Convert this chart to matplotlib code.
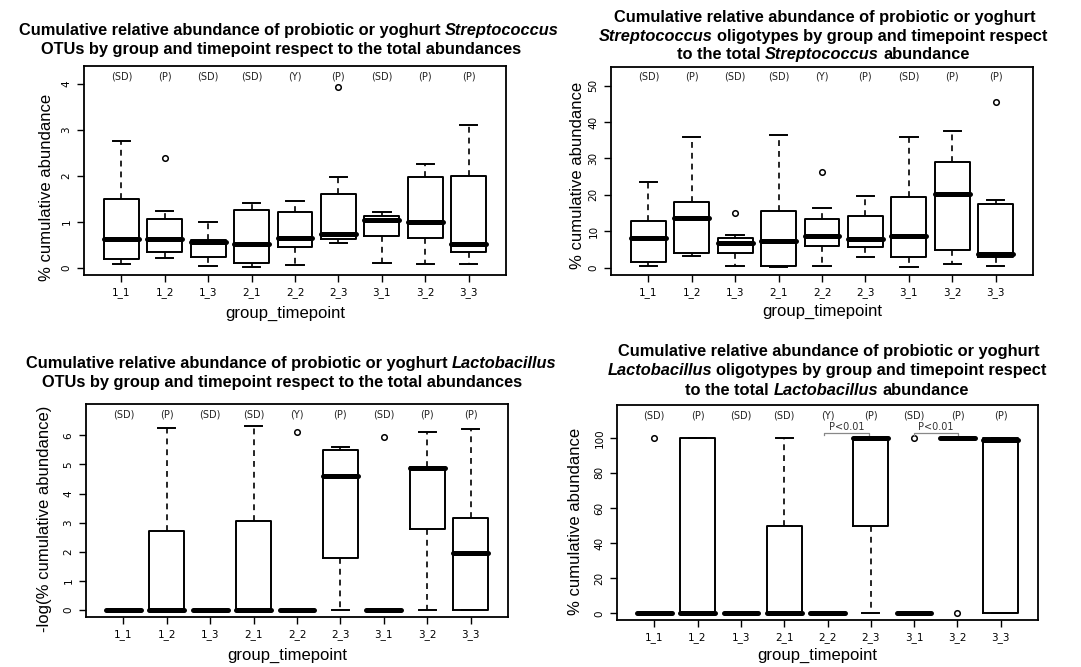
import matplotlib
matplotlib.use("Agg")
import matplotlib.pyplot as plt

W, H = 1081, 667

groups = ["1_1", "1_2", "1_3", "2_1", "2_2", "2_3", "3_1", "3_2", "3_3"]
diets = ["(SD)", "(P)", "(SD)", "(SD)", "(Y)", "(P)", "(SD)", "(P)", "(P)"]

# Streptococcus OTUs (% of total abundances)
strep_otu_lo = [0.09, 0.23, 0.05, 0.02, 0.06, 0.54, 0.10, 0.09, 0.09]
strep_otu_q1 = [0.19, 0.34, 0.25, 0.12, 0.45, 0.64, 0.69, 0.66, 0.36]
strep_otu_med = [0.63, 0.63, 0.57, 0.52, 0.65, 0.73, 1.05, 1.00, 0.52]
strep_otu_q3 = [1.50, 1.07, 0.62, 1.26, 1.21, 1.60, 1.14, 1.98, 2.00]
strep_otu_hi = [2.77, 1.24, 1.00, 1.42, 1.45, 1.98, 1.21, 2.26, 3.11]
strep_otu_out = [[], [2.40], [], [], [], [3.93], [], [], []]

# Streptococcus oligotypes (% of total Streptococcus)
strep_oli_lo = [0.6, 3.3, 0.55, 0.1, 0.4, 2.9, 0.3, 0.9, 0.6]
strep_oli_q1 = [1.5, 4.1, 4.1, 0.55, 6.0, 5.8, 3.0, 4.85, 3.0]
strep_oli_med = [8.15, 13.55, 6.8, 7.3, 8.7, 8.0, 8.7, 20.3, 3.7]
strep_oli_q3 = [12.8, 18.0, 8.15, 15.7, 13.4, 14.1, 19.4, 28.9, 17.4]
strep_oli_hi = [23.5, 36.0, 9.0, 36.5, 16.5, 19.6, 36.0, 37.6, 18.7]
strep_oli_out = [[], [], [15.1], [], [26.2], [], [], [], [45.6]]

# Lactobacillus OTUs, -log(% cumulative abundance)
lacto_otu_lo = [0, 0, 0, 0, 0, 0, 0, 0, 0]
lacto_otu_q1 = [0, 0, 0, 0, 0, 1.77, 0, 2.79, 0]
lacto_otu_med = [0, 0, 0, 0, 0, 4.59, 0, 4.88, 1.95]
lacto_otu_q3 = [0, 2.71, 0, 3.07, 0, 5.51, 0, 4.91, 3.14]
lacto_otu_hi = [0, 6.27, 0, 6.32, 0, 5.60, 0, 6.11, 6.23]
lacto_otu_out = [[], [], [], [], [6.13], [], [5.95], [], []]

# Lactobacillus oligotypes (% of total Lactobacillus)
lacto_oli_lo = [0, 0, 0, 0, 0, 0, 0, 100, 0]
lacto_oli_q1 = [0, 0, 0, 0, 0, 50, 0, 100, 0]
lacto_oli_med = [0, 0, 0, 0, 0, 99.8, 0, 100, 98.5]
lacto_oli_q3 = [0, 100, 0, 50, 0, 100, 0, 100, 100]
lacto_oli_hi = [0, 100, 0, 100, 0, 100, 0, 100, 100]
lacto_oli_out = [[100], [], [], [], [], [], [100], [0], []]

# significance brackets on the last panel: (x from, x to, label)
sig_pairs = [(4.93, 5.96, "P<0.01"), (7.0, 8.02, "P<0.01")]

TITLE_FONT = "Liberation Sans"
TICK_FONT = "DejaVu Sans"

fig = plt.figure(figsize=(W / 100, H / 100), dpi=100)
renderer = fig.canvas.get_renderer()


def make_stats(lo, q1, med, q3, hi, out):
    return [dict(whislo=a, q1=b, med=c, q3=d, whishi=e, fliers=f)
            for a, b, c, d, e, f in zip(lo, q1, med, q3, hi, out)]


def px_axes(left, top, right, bottom):
    return fig.add_axes([left / W, 1 - bottom / H, (right - left) / W, (bottom - top) / H])


def rich_line(xc, y, pieces, size=11.8):
    # pieces: list of (text, italic); centred at pixel x, baseline at pixel y
    kw = dict(fontsize=size, fontweight="bold", family=TITLE_FONT, va="baseline", ha="left")
    t1 = fig.text(0, 0, "a a", **kw)
    t2 = fig.text(0, 0, "aa", **kw)
    space = t1.get_window_extent(renderer).width - t2.get_window_extent(renderer).width
    t1.remove()
    t2.remove()
    texts = []
    for s, it in pieces:
        texts.append(fig.text(0, 0, s, style="italic" if it else "normal", **kw))
    widths = [t.get_window_extent(renderer).width for t in texts]
    total = sum(widths) + space * (len(texts) - 1)
    x = xc - total / 2
    for t, w in zip(texts, widths):
        t.set_position((x / W, 1 - y / H))
        x += w + space


def draw_panel(ax, stats, ylim, yticks):
    ax.bxp(stats, positions=range(1, 10), widths=0.8, manage_ticks=False,
           boxprops=dict(color="black", linewidth=1.4),
           whiskerprops=dict(color="black", linewidth=1.2, linestyle=(0, (3.5, 3))),
           capprops=dict(color="black", linewidth=1.4),
           medianprops=dict(color="black", linewidth=3.6, solid_capstyle="round"),
           flierprops=dict(marker="o", markersize=4, markerfacecolor="none",
                           markeredgecolor="black", markeredgewidth=1.1))
    ax.set_xlim(0.14, 9.86)
    ax.set_ylim(*ylim)
    ax.set_xticks(range(1, 10))
    ax.set_xticklabels(groups, family=TICK_FONT, fontsize=7.5)
    ax.set_yticks(yticks)
    ax.set_yticklabels([str(v) for v in yticks], family=TICK_FONT, fontsize=7.5,
                       rotation=90, va="center")
    ax.tick_params(length=5, width=1, pad=4, color="black")
    for sp in ax.spines.values():
        sp.set_linewidth(1.3)
    for i, d in enumerate(diets):
        ax.text(i + 1, 0.952, d, transform=ax.get_xaxis_transform(), ha="center",
                va="center", fontsize=7, family=TICK_FONT, color="#222222")


def labels(xl, yl, ylabel):
    fig.text(xl[0] / W, 1 - xl[1] / H, "group_timepoint", ha="center", va="center",
             fontsize=12, family=TITLE_FONT)
    fig.text(yl[0] / W, 1 - yl[1] / H, ylabel, ha="center", va="center",
             rotation=90, fontsize=12, family=TITLE_FONT)


# top left
ax1 = px_axes(84, 66, 506, 275)
draw_panel(ax1, make_stats(strep_otu_lo, strep_otu_q1, strep_otu_med, strep_otu_q3,
                           strep_otu_hi, strep_otu_out), (-0.15, 4.39), [0, 1, 2, 3, 4])
rich_line(289, 35, [("Cumulative relative abundance of probiotic or yoghurt", False),
                    ("Streptococcus", True)])
rich_line(281, 54, [("OTUs by group and timepoint respect to the total abundances", False)])
labels((285, 313), (47, 187), "% cumulative abundance")

# top right
ax2 = px_axes(611, 67, 1033, 275)
draw_panel(ax2, make_stats(strep_oli_lo, strep_oli_q1, strep_oli_med, strep_oli_q3,
                           strep_oli_hi, strep_oli_out), (-2.0, 55.1), [0, 10, 20, 30, 40, 50])
rich_line(825, 22, [("Cumulative relative abundance of probiotic or yoghurt", False)])
rich_line(823, 41, [("Streptococcus", True),
                    ("oligotypes by group and timepoint respect", False)])
rich_line(823, 59, [("to the total", False), ("Streptococcus", True), ("abundance", False)])
labels((822, 311), (577, 175), "% cumulative abundance")

# bottom left
ax3 = px_axes(86, 404, 508, 617)
draw_panel(ax3, make_stats(lacto_otu_lo, lacto_otu_q1, lacto_otu_med, lacto_otu_q3,
                           lacto_otu_hi, lacto_otu_out), (-0.25, 7.08), [0, 1, 2, 3, 4, 5, 6])
rich_line(291, 368, [("Cumulative relative abundance of probiotic or yoghurt", False),
                     ("Lactobacillus", True)])
rich_line(282, 387, [("OTUs by group and timepoint respect to the total abundances", False)])
labels((287, 655), (45, 519), "-log(% cumulative abundance)")

# bottom right
ax4 = px_axes(617, 405, 1038, 620)
draw_panel(ax4, make_stats(lacto_oli_lo, lacto_oli_q1, lacto_oli_med, lacto_oli_q3,
                           lacto_oli_hi, lacto_oli_out), (-3.8, 118.7), [0, 20, 40, 60, 80, 100])
rich_line(829, 356, [("Cumulative relative abundance of probiotic or yoghurt", False)])
rich_line(827, 375, [("Lactobacillus", True),
                     ("oligotypes by group and timepoint respect", False)])
rich_line(827, 395, [("to the total", False), ("Lactobacillus", True), ("abundance", False)])
labels((817, 655), (575, 521), "% cumulative abundance")
for x0, x1, lab in sig_pairs:
    ax4.plot([x0, x0, x1, x1], [101.5, 103, 103, 101.5], color="#888888", lw=0.9)
    ax4.text((x0 + x1) / 2, 103.6, lab, ha="center", va="bottom", fontsize=7,
             family=TICK_FONT, color="#333333")

fig.savefig("out.png", dpi=100)
